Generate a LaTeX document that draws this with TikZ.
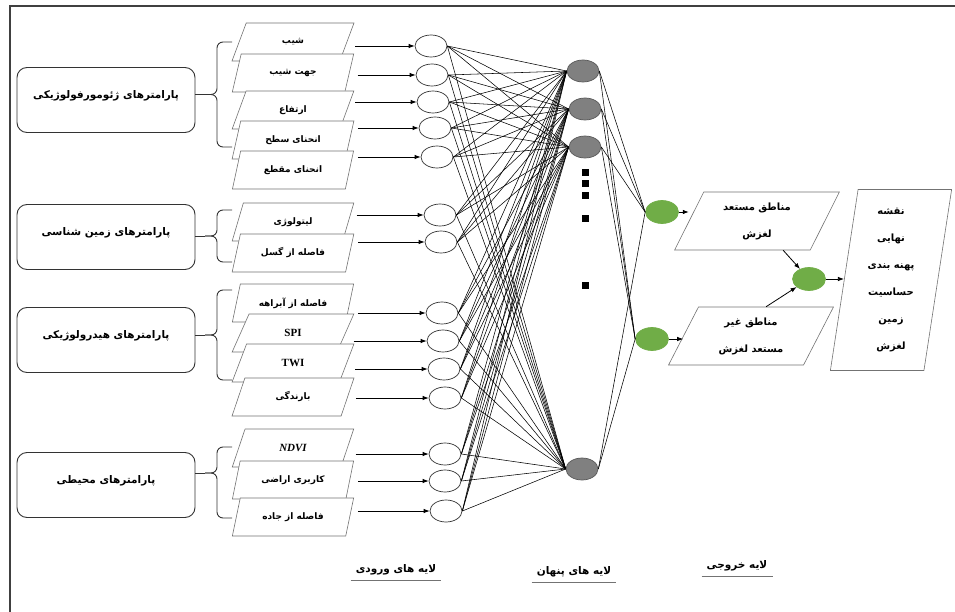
\documentclass[tikz,border=0pt]{standalone}
\usepackage{fontspec}
\usetikzlibrary{shapes.geometric,calc,arrows.meta}
\tikzset{>={Latex[length=6pt,width=4.5pt]}}
\TeXXeTstate=1
\newfontfamily\fa[Script=Arabic]{DejaVu Sans}
\newfontfamily\lat{Liberation Serif}
\newcommand{\rl}[1]{\beginR#1\endR}
\definecolor{ngreen}{RGB}{112,173,71}
\definecolor{ngray}{RGB}{128,128,128}

\begin{document}
\begin{tikzpicture}[x=1pt, y=-1pt,
    group/.style={draw=black!80, line width=0.9pt, rounded corners=10pt, minimum width=178pt, minimum height=65pt, text depth=10pt, font=\fa\bfseries\fontsize{10.5}{12}\selectfont},
    param/.style={trapezium, trapezium left angle=72, trapezium right angle=108, trapezium stretches=true, draw=black!55, line width=0.6pt, fill=white, minimum width=122pt, minimum height=38pt, font=\fa\bfseries\fontsize{9}{11}\selectfont},
    inp/.style={ellipse, draw=black!80, line width=0.7pt, fill=white, minimum width=32pt, minimum height=22pt, inner sep=0pt},
    hid/.style={inp, draw=black!65, fill=ngray},
    outneuron/.style={inp, draw=ngreen, fill=ngreen, minimum width=33pt, minimum height=23pt},
    result/.style={param, trapezium left angle=65, trapezium right angle=115, minimum width=165pt, minimum height=58pt, align=center, font=\fa\bfseries\fontsize{10}{27}\selectfont},
    bracket/.style={black!80, line width=0.9pt, rounded corners=6pt},
    link/.style={black, line width=0.55pt},
    arrow/.style={->, line width=0.8pt},
    layer/.style={font=\fa\bfseries\fontsize{10.5}{12}\selectfont, inner xsep=5pt, inner ysep=5pt}
]
\useasboundingbox (0,0) rectangle (955,612);
\draw[black!75, line width=1.5pt] (955,6) -- (10,6) -- (10,612);

\node[group] (g1) at (106,100) {\rl{پارامترهای ژئومورفولوژیکی}};
\node[group] (g2) at (106,237) {\rl{پارامترهای زمین شناسی}};
\node[group] (g3) at (106,340) {\rl{پارامترهای هیدرولوژیکی}};
\node[group] (g4) at (106,485) {\rl{پارامترهای محیطی}};

\foreach \a/\m/\b/\g in {42/94.5/147/1, 210/236/262/2, 290/335/380/3, 447/473/518/4}{
    \draw[bracket] (232,\a) -| (217,\m) -- (205,\m) coordinate (b\g);
    \draw[bracket] (232,\b) -| (217,\m) -- (205,\m);
    \draw[bracket] (g\g.east |- b\g) -- (b\g);
}

\foreach \i/\y/\t in {1/42/{شیب}, 2/73/{جهت شیب}, 3/110/{ارتفاع}, 4/140/{انحنای سطح}, 5/170/{انحنای مقطع},
    6/222/{لیتولوژی}, 7/253/{فاصله از گسل},
    8/303/{فاصله از آبراهه}, 9/333/{\lat\fontsize{11}{12}\selectfont SPI}, 10/363/{\lat\fontsize{11}{12}\selectfont TWI}, 11/397/{بارندگی},
    12/448/{\lat\itshape\fontsize{11}{12}\selectfont NDVI}, 13/480/{کاربری اراضی}, 14/517/{فاصله از جاده}}
    \node[param] (p\i) at (293,\y) {\rl{\t}};

\foreach \i/\x/\y in {1/431/46, 2/432/75, 3/433/102, 4/435/128, 5/437/157, 6/440/215, 7/441/242,
    8/442/313, 9/443/341, 10/444/369, 11/445/398, 12/445/454, 13/445/481, 14/446/511}
    \node[inp] (n\i) at (\x,\y) {};

\node[hid] (h1) at (583,71) {};
\node[hid] (h2) at (585,109) {};
\node[hid] (h3) at (585,147) {};
\node[hid] (h4) at (582,469) {};
\foreach \y in {173,184,196,219,285}
    \fill (585,\y) ++(-3.5,-3.5) rectangle ++(7,7);

\node[outneuron] (o1) at (662,212) {};
\node[outneuron] (o2) at (652,339) {};
\node[outneuron] (o3) at (809,279) {};

\foreach \i in {1,...,14}{
    \draw[arrow, shorten <=8pt] (p\i.east |- n\i) -- (n\i);
    \foreach \j in {1,...,4}
        \draw[link] (n\i.east) -- (h\j.west);
}
\foreach \j in {1,...,4}{
    \draw[link] (h\j.east) -- (o1.west);
    \draw[link] (h\j.east) -- (o2.west);
}

\node[result] (r1) at (757,221) {\rl{مناطق مستعد}\\\rl{لغزش}};
\node[result] (r2) at (751,336) {\rl{مناطق غیر}\\\rl{مستعد لغزش}};
\node[result, trapezium left angle=81.5, trapezium right angle=98.5, minimum width=122pt, minimum height=181pt] (map) at (891,280)
    {\rl{نقشه}\\\rl{نهایی}\\\rl{پهنه بندی}\\\rl{حساسیت}\\\rl{زمین}\\\rl{لغزش}};

\draw[arrow] (o1) -- (o1 -| r1.west);
\draw[arrow] (o2) -- (o2 -| r2.west);
\draw[arrow] ($(r1.bottom left corner)!0.8!(r1.bottom right corner)$) -- (o3);
\draw[arrow] ($(r2.top left corner)!0.5!(r2.top right corner)$) -- (o3);
\draw[arrow] (o3) -- (o3 -| map.west);

\node[layer] (l1) at (396,570) {\rl{لایه های ورودی}};
\node[layer] (l2) at (574,572) {\rl{لایه های پنهان}};
\node[layer] (l3) at (737,566) {\rl{لایه خروجی}};
\foreach \l in {l1,l2,l3}
    \draw[black!55, line width=1pt] (\l.south west) -- (\l.south east);
\end{tikzpicture}
\end{document}
